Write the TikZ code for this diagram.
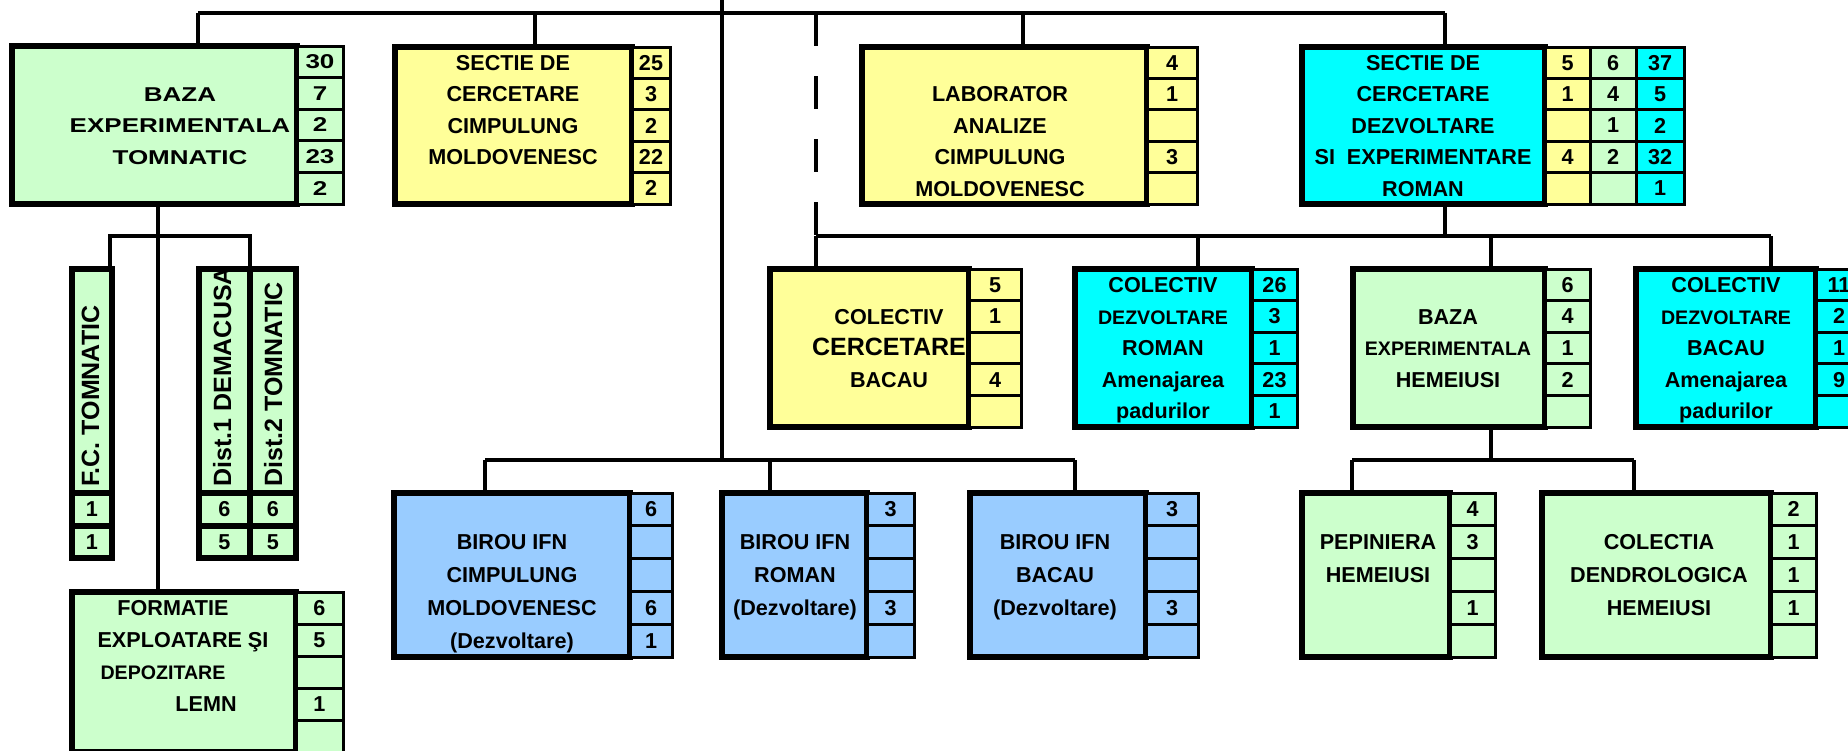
\documentclass[tikz,border=0pt]{standalone}
\usepackage{fontspec}
\setmainfont{Liberation Sans}
\newfontfamily\widefont[FakeStretch=1.3]{Liberation Sans}
\usetikzlibrary{calc}

\definecolor{paleGreen}{HTML}{CCFFCC}
\definecolor{paleYellow}{HTML}{FFFF99}
\definecolor{aqua}{HTML}{00FFFF}
\definecolor{skyBlue}{HTML}{99CCFF}

\newcommand\lblfont{\fontsize{10.8}{13}\selectfont\bfseries}
\newcommand\minorfont{\fontsize{9.8}{12}\selectfont\bfseries}
\newcommand\tallfont{\fontsize{12.5}{15}\selectfont\bfseries}
\newcommand\widetext{\widefont\fontsize{10}{12}\selectfont\bfseries}

% box: name, x1, y1, x2, y2, style
\newcommand\unitbox[6]{%
  \node[mainbox, #6, minimum width={0.5pt*(#4-#2)}, minimum height={0.5pt*(#5-#3)}]
    (#1) at ({(#2+#4)/2},{(#3+#5)/2}) {};}
% column of five cells: name, x1, x2, y1, y2, style, values
\newcommand\numcol[7]{%
  \foreach \cellval [count=\cellno] in {#7}
    \node[numcell, #6, minimum width={0.5pt*(#3-#2)}, minimum height={0.1pt*(#5-#4)}]
      (#1-\cellno) at ({(#2+#3)/2},{#4+(\cellno-0.5)*(#5-#4)/5}) {\cellval};}
% text lines on the rows: name, x, y1, y2, text/row
\newcommand\boxlines[5]{%
  \foreach \linetext/\rowno in {#5}
    \node[lbl] (#1-l\rowno) at (#2,{#3+(\rowno-0.5)*(#4-#3)/5}) {\linetext};}

\begin{document}
\begin{tikzpicture}[x=0.5pt,y=-0.5pt,line join=miter,
  mainbox/.style={draw,line width=2.6pt,inner sep=0pt,outer sep=0pt},
  numcell/.style={draw,line width=1.5pt,inner sep=0pt,outer sep=0pt,font=\lblfont},
  thickcell/.style={numcell,line width=2.6pt},
  lbl/.style={inner sep=0pt,font=\lblfont,text height=7.7pt,text depth=0pt},
  rotlbl/.style={inner sep=0pt,rotate=90,anchor=west,font=\tallfont,text height=9pt,text depth=0pt},
  conn/.style={line width=1.7pt},
  dashconn/.style={conn,dash pattern=on 16.5pt off 15pt}]
\useasboundingbox (0,0) rectangle (1848,750);
\clip (0,0) rectangle (1848,750);

% bus points
\coordinate (busA) at (198,13);
\coordinate (busB) at (1445,13);
\coordinate (dropSC) at (535,13);
\coordinate (dropLab) at (1023,13);
\coordinate (trunkTop) at (722,-10);
\coordinate (trunkEnd) at (722,460);
\coordinate (dashTop) at (816,13);
\coordinate (busC) at (816,236);
\coordinate (busD) at (1771,236);
\coordinate (dropDR) at (1198,236);
\coordinate (dropBH) at (1491,236);
\coordinate (busL1) at (110,236);
\coordinate (busL2) at (250,236);
\coordinate (dropF) at (158,236);
\coordinate (busE) at (485,460);
\coordinate (dropBR) at (770,460);
\coordinate (busF) at (1075,460);
\coordinate (busG) at (1352,460);
\coordinate (busH) at (1634,460);
\coordinate (dropH) at (1491,460);

% top row
\unitbox{bazaT}{12}{46}{297}{204}{fill=paleGreen}
\numcol{bazaT}{297}{343}{46}{204}{fill=paleGreen,font=\widetext}{30,7,2,23,2}
\boxlines{bazaT}{180}{46}{204}{{\widetext BAZA}/2,{\widetext EXPERIMENTALA}/3,{\widetext TOMNATIC}/4}

\unitbox{sectieCM}{395}{47}{632}{204}{fill=paleYellow}
\numcol{sectieCM}{632}{670}{47}{204}{fill=paleYellow}{25,3,2,22,2}
\boxlines{sectieCM}{513}{47}{204}{SECTIE DE/1,CERCETARE/2,CIMPULUNG/3,MOLDOVENESC/4}

\unitbox{lab}{862}{47}{1147}{204}{fill=paleYellow}
\numcol{lab}{1147}{1197}{47}{204}{fill=paleYellow}{4,1,{},3,{}}
\boxlines{lab}{1000}{47}{204}{LABORATOR/2,ANALIZE/3,CIMPULUNG/4,MOLDOVENESC/5}

\unitbox{sectieR}{1302}{47}{1545}{204}{fill=aqua}
\numcol{sectieRa}{1545}{1590}{47}{204}{fill=paleYellow}{5,1,{},4,{}}
\numcol{sectieRb}{1590}{1636}{47}{204}{fill=paleGreen}{6,4,1,2,{}}
\numcol{sectieRc}{1636}{1684}{47}{204}{fill=aqua}{37,5,2,32,1}
\boxlines{sectieR}{1423}{47}{204}{SECTIE DE/1,CERCETARE/2,DEZVOLTARE/3,SI~~EXPERIMENTARE/4,ROMAN/5}

% second row
\unitbox{colCB}{770}{269}{969}{427}{fill=paleYellow}
\numcol{colCB}{969}{1021}{269}{427}{fill=paleYellow}{5,1,{},4,{}}
\boxlines{colCB}{889}{269}{427}{COLECTIV/2,{\tallfont CERCETARE}/3,BACAU/4}

\unitbox{colDR}{1075}{269}{1252}{427}{fill=aqua}
\numcol{colDR}{1252}{1297}{269}{427}{fill=aqua}{26,3,1,23,1}
\boxlines{colDR}{1163}{269}{427}{COLECTIV/1,{\minorfont DEZVOLTARE}/2,ROMAN/3,Amenajarea/4,padurilor/5}

\unitbox{bazaH}{1353}{269}{1545}{427}{fill=paleGreen}
\numcol{bazaH}{1545}{1590}{269}{427}{fill=paleGreen}{6,4,1,2,{}}
\boxlines{bazaH}{1448}{269}{427}{BAZA/2,{\minorfont EXPERIMENTALA}/3,HEMEIUSI/4}

\unitbox{colDB}{1636}{269}{1816}{427}{fill=aqua}
\numcol{colDB}{1816}{1862}{269}{427}{fill=aqua}{11,2,1,9,{}}
\boxlines{colDB}{1726}{269}{427}{COLECTIV/1,{\minorfont DEZVOLTARE}/2,BACAU/3,Amenajarea/4,padurilor/5}

% third row
\unitbox{birouCM}{394}{493}{630}{657}{fill=skyBlue}
\numcol{birouCM}{630}{672}{493}{657}{fill=skyBlue}{6,{},{},6,1}
\boxlines{birouCM}{512}{493}{657}{BIROU IFN/2,CIMPULUNG/3,MOLDOVENESC/4,(Dezvoltare)/5}

\unitbox{birouR}{722}{493}{867}{657}{fill=skyBlue}
\numcol{birouR}{867}{914}{493}{657}{fill=skyBlue}{3,{},{},3,{}}
\boxlines{birouR}{795}{493}{657}{BIROU IFN/2,ROMAN/3,(Dezvoltare)/4}

\unitbox{birouB}{970}{493}{1146}{657}{fill=skyBlue}
\numcol{birouB}{1146}{1198}{493}{657}{fill=skyBlue}{3,{},{},3,{}}
\boxlines{birouB}{1055}{493}{657}{BIROU IFN/2,BACAU/3,(Dezvoltare)/4}

\unitbox{pep}{1302}{493}{1450}{657}{fill=paleGreen}
\numcol{pep}{1450}{1495}{493}{657}{fill=paleGreen}{4,3,{},1,{}}
\boxlines{pep}{1378}{493}{657}{PEPINIERA/2,HEMEIUSI/3}

\unitbox{colectia}{1542}{493}{1771}{657}{fill=paleGreen}
\numcol{colectia}{1771}{1816}{493}{657}{fill=paleGreen}{2,1,1,1,{}}
\boxlines{colectia}{1659}{493}{657}{COLECTIA/2,DENDROLOGICA/3,HEMEIUSI/4}

% left branch
\unitbox{fc}{72}{269}{112}{493}{fill=paleGreen}
\node[thickcell,fill=paleGreen,minimum width=20pt,minimum height=16.5pt] (fc-1) at (92,509.5) {1};
\node[thickcell,fill=paleGreen,minimum width=20pt,minimum height=16pt] (fc-2) at (92,542) {1};
\node[rotlbl] (fc-t) at (90,487) {F.C. TOMNATIC};

\unitbox{distA}{199}{269}{250}{493}{fill=paleGreen}
\unitbox{distB}{250}{269}{296}{493}{fill=paleGreen}
\node[thickcell,fill=paleGreen,minimum width=25.5pt,minimum height=16.5pt] (distA-1) at (224.5,509.5) {6};
\node[thickcell,fill=paleGreen,minimum width=25.5pt,minimum height=16pt] (distA-2) at (224.5,542) {5};
\node[thickcell,fill=paleGreen,minimum width=23pt,minimum height=16.5pt] (distB-1) at (273,509.5) {6};
\node[thickcell,fill=paleGreen,minimum width=23pt,minimum height=16pt] (distB-2) at (273,542) {5};
\begin{scope}
  \clip (distA.north west) rectangle (distA.south east);
  \node[rotlbl] (distA-t) at (222,487) {Dist.1 DEMACUSA};
\end{scope}
\node[rotlbl] (distB-t) at (273,487) {Dist.2 TOMNATIC};

\unitbox{formatie}{72}{592}{296}{752}{fill=paleGreen}
\numcol{formatie}{296}{343}{592}{752}{fill=paleGreen}{6,5,{},1,{}}
\node[lbl] (formatie-l1) at (173,608) {FORMATIE};
\node[lbl] (formatie-l2) at (183,640) {EXPLOATARE ŞI};
\node[lbl,font=\minorfont] (formatie-l3) at (163,672) {DEPOZITARE};
\node[lbl] (formatie-l4) at (206,704) {LEMN};

% connectors
\draw[conn] (busA) -- (busB);
\draw[conn] (busA) -- (busA |- bazaT.north);
\draw[conn] (dropSC) -- (dropSC |- sectieCM.north);
\draw[conn] (dropLab) -- (dropLab |- lab.north);
\draw[conn] (busB) -- (busB |- sectieR.north);
\draw[conn] (trunkTop) -- (trunkEnd);
\draw[dashconn] (dashTop) -- (busC);
\draw[conn] (busC) -- (busD);
\draw[conn] (busB |- sectieR.south) -- (busB |- busC);
\draw[conn] (busC) -- (busC |- colCB.north);
\draw[conn] (dropDR) -- (dropDR |- colDR.north);
\draw[conn] (dropBH) -- (dropBH |- bazaH.north);
\draw[conn] (busD) -- (busD |- colDB.north);
\draw[conn] (dropF |- bazaT.south) -- (dropF |- formatie.north);
\draw[conn] (busL1 |- fc.north) -- (busL1) -- (busL2) -- (busL2 |- distA.north);
\draw[conn] (busE) -- (busF);
\draw[conn] (busE) -- (busE |- birouCM.north);
\draw[conn] (dropBR) -- (dropBR |- birouR.north);
\draw[conn] (busF) -- (busF |- birouB.north);
\draw[conn] (dropH |- bazaH.south) -- (dropH);
\draw[conn] (busG) -- (busH);
\draw[conn] (busG) -- (busG |- pep.north);
\draw[conn] (busH) -- (busH |- colectia.north);
\end{tikzpicture}
\end{document}
